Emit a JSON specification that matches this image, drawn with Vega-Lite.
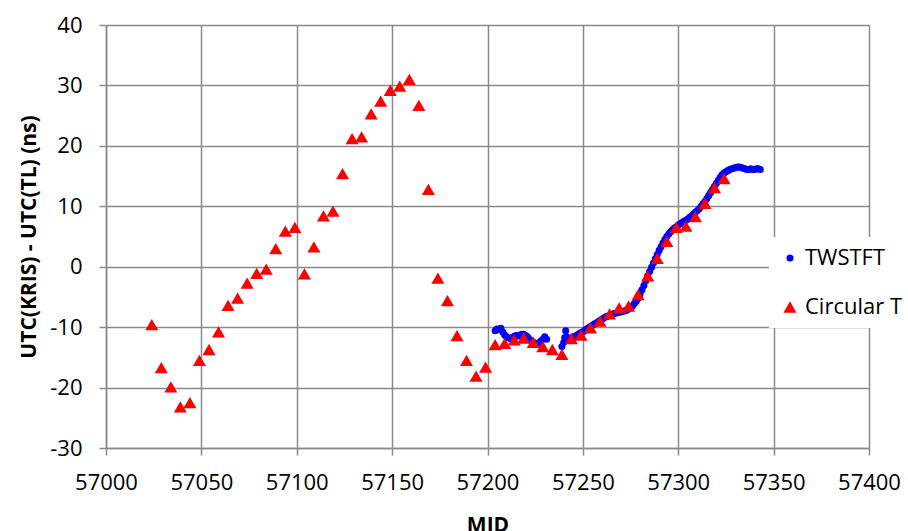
{
  "$schema": "https://vega.github.io/schema/vega-lite/v6.json",
  "width": 763,
  "height": 423,
  "autosize": "none",
  "padding": {"left": 106, "top": 25, "right": 39, "bottom": 83},
  "background": "white",
  "config": {
    "view": {"stroke": null},
    "font": "Open Sans",
    "axis": {
      "labelFont": "Open Sans",
      "labelFontSize": 22,
      "labelColor": "#000000",
      "labelOverlap": false,
      "labelFlush": false,
      "titleFont": "Open Sans",
      "titleFontSize": 21,
      "titleFontWeight": "bold",
      "titleColor": "#000000",
      "gridColor": "#8a8a8a",
      "gridWidth": 1.5,
      "gridOpacity": 1,
      "domainColor": "#8a8a8a",
      "domainWidth": 1.5,
      "tickColor": "#8a8a8a",
      "tickWidth": 1.5,
      "tickSize": 7,
      "labelPadding": 17
    },
    "legend": {
      "labelFont": "Open Sans",
      "labelFontSize": 22,
      "labelColor": "#000000"
    }
  },
  "data": {
    "values": [
      {"mjd": 57204, "v": -10.6, "s": "TWSTFT"},
      {"mjd": 57205, "v": -10.3, "s": "TWSTFT"},
      {"mjd": 57206, "v": -10.4, "s": "TWSTFT"},
      {"mjd": 57207, "v": -10.2, "s": "TWSTFT"},
      {"mjd": 57208, "v": -10.8, "s": "TWSTFT"},
      {"mjd": 57209, "v": -11.3, "s": "TWSTFT"},
      {"mjd": 57210, "v": -11.6, "s": "TWSTFT"},
      {"mjd": 57211, "v": -11.8, "s": "TWSTFT"},
      {"mjd": 57212, "v": -11.9, "s": "TWSTFT"},
      {"mjd": 57213, "v": -11.7, "s": "TWSTFT"},
      {"mjd": 57214, "v": -11.5, "s": "TWSTFT"},
      {"mjd": 57215, "v": -11.4, "s": "TWSTFT"},
      {"mjd": 57216, "v": -11.5, "s": "TWSTFT"},
      {"mjd": 57217, "v": -11.3, "s": "TWSTFT"},
      {"mjd": 57218, "v": -11.2, "s": "TWSTFT"},
      {"mjd": 57219, "v": -11.2, "s": "TWSTFT"},
      {"mjd": 57220, "v": -11.4, "s": "TWSTFT"},
      {"mjd": 57221, "v": -11.6, "s": "TWSTFT"},
      {"mjd": 57222, "v": -12.0, "s": "TWSTFT"},
      {"mjd": 57223, "v": -12.3, "s": "TWSTFT"},
      {"mjd": 57224, "v": -12.5, "s": "TWSTFT"},
      {"mjd": 57225, "v": -12.7, "s": "TWSTFT"},
      {"mjd": 57226, "v": -12.8, "s": "TWSTFT"},
      {"mjd": 57227, "v": -12.6, "s": "TWSTFT"},
      {"mjd": 57228, "v": -12.3, "s": "TWSTFT"},
      {"mjd": 57229, "v": -12.0, "s": "TWSTFT"},
      {"mjd": 57230, "v": -11.6, "s": "TWSTFT"},
      {"mjd": 57231, "v": -12.0, "s": "TWSTFT"},
      {"mjd": 57239, "v": -13.2, "s": "TWSTFT"},
      {"mjd": 57240, "v": -12.5, "s": "TWSTFT"},
      {"mjd": 57240.5, "v": -11.7, "s": "TWSTFT"},
      {"mjd": 57241, "v": -10.6, "s": "TWSTFT"},
      {"mjd": 57241.5, "v": -11.6, "s": "TWSTFT"},
      {"mjd": 57242, "v": -12.2, "s": "TWSTFT"},
      {"mjd": 57243, "v": -12.0, "s": "TWSTFT"},
      {"mjd": 57244, "v": -11.8, "s": "TWSTFT"},
      {"mjd": 57245, "v": -11.6, "s": "TWSTFT"},
      {"mjd": 57246, "v": -11.5, "s": "TWSTFT"},
      {"mjd": 57247, "v": -11.3, "s": "TWSTFT"},
      {"mjd": 57248, "v": -11.1, "s": "TWSTFT"},
      {"mjd": 57249, "v": -10.9, "s": "TWSTFT"},
      {"mjd": 57250, "v": -10.8, "s": "TWSTFT"},
      {"mjd": 57251, "v": -10.5, "s": "TWSTFT"},
      {"mjd": 57252, "v": -10.3, "s": "TWSTFT"},
      {"mjd": 57253, "v": -10.1, "s": "TWSTFT"},
      {"mjd": 57254, "v": -9.9, "s": "TWSTFT"},
      {"mjd": 57255, "v": -9.7, "s": "TWSTFT"},
      {"mjd": 57256, "v": -9.5, "s": "TWSTFT"},
      {"mjd": 57257, "v": -9.3, "s": "TWSTFT"},
      {"mjd": 57258, "v": -9.1, "s": "TWSTFT"},
      {"mjd": 57259, "v": -8.9, "s": "TWSTFT"},
      {"mjd": 57260, "v": -8.7, "s": "TWSTFT"},
      {"mjd": 57261, "v": -8.5, "s": "TWSTFT"},
      {"mjd": 57262, "v": -8.3, "s": "TWSTFT"},
      {"mjd": 57263, "v": -8.2, "s": "TWSTFT"},
      {"mjd": 57264, "v": -8.1, "s": "TWSTFT"},
      {"mjd": 57265, "v": -7.9, "s": "TWSTFT"},
      {"mjd": 57266, "v": -7.8, "s": "TWSTFT"},
      {"mjd": 57267, "v": -7.7, "s": "TWSTFT"},
      {"mjd": 57268, "v": -7.6, "s": "TWSTFT"},
      {"mjd": 57269, "v": -7.5, "s": "TWSTFT"},
      {"mjd": 57270, "v": -7.5, "s": "TWSTFT"},
      {"mjd": 57271, "v": -7.4, "s": "TWSTFT"},
      {"mjd": 57272, "v": -7.3, "s": "TWSTFT"},
      {"mjd": 57273, "v": -7.2, "s": "TWSTFT"},
      {"mjd": 57274, "v": -7.0, "s": "TWSTFT"},
      {"mjd": 57275, "v": -6.8, "s": "TWSTFT"},
      {"mjd": 57276, "v": -6.5, "s": "TWSTFT"},
      {"mjd": 57277, "v": -6.1, "s": "TWSTFT"},
      {"mjd": 57278, "v": -5.7, "s": "TWSTFT"},
      {"mjd": 57279, "v": -5.2, "s": "TWSTFT"},
      {"mjd": 57280, "v": -4.5, "s": "TWSTFT"},
      {"mjd": 57281, "v": -3.8, "s": "TWSTFT"},
      {"mjd": 57282, "v": -3.1, "s": "TWSTFT"},
      {"mjd": 57283, "v": -2.3, "s": "TWSTFT"},
      {"mjd": 57284, "v": -1.5, "s": "TWSTFT"},
      {"mjd": 57285, "v": -0.8, "s": "TWSTFT"},
      {"mjd": 57286, "v": -0.1, "s": "TWSTFT"},
      {"mjd": 57287, "v": 0.6, "s": "TWSTFT"},
      {"mjd": 57288, "v": 1.3, "s": "TWSTFT"},
      {"mjd": 57289, "v": 2.0, "s": "TWSTFT"},
      {"mjd": 57290, "v": 2.7, "s": "TWSTFT"},
      {"mjd": 57291, "v": 3.3, "s": "TWSTFT"},
      {"mjd": 57292, "v": 3.9, "s": "TWSTFT"},
      {"mjd": 57293, "v": 4.5, "s": "TWSTFT"},
      {"mjd": 57294, "v": 5.0, "s": "TWSTFT"},
      {"mjd": 57295, "v": 5.4, "s": "TWSTFT"},
      {"mjd": 57296, "v": 5.8, "s": "TWSTFT"},
      {"mjd": 57297, "v": 6.1, "s": "TWSTFT"},
      {"mjd": 57298, "v": 6.4, "s": "TWSTFT"},
      {"mjd": 57299, "v": 6.6, "s": "TWSTFT"},
      {"mjd": 57300, "v": 6.9, "s": "TWSTFT"},
      {"mjd": 57301, "v": 7.1, "s": "TWSTFT"},
      {"mjd": 57302, "v": 7.3, "s": "TWSTFT"},
      {"mjd": 57303, "v": 7.5, "s": "TWSTFT"},
      {"mjd": 57304, "v": 7.7, "s": "TWSTFT"},
      {"mjd": 57305, "v": 7.9, "s": "TWSTFT"},
      {"mjd": 57306, "v": 8.2, "s": "TWSTFT"},
      {"mjd": 57307, "v": 8.4, "s": "TWSTFT"},
      {"mjd": 57308, "v": 8.7, "s": "TWSTFT"},
      {"mjd": 57309, "v": 9.0, "s": "TWSTFT"},
      {"mjd": 57310, "v": 9.3, "s": "TWSTFT"},
      {"mjd": 57311, "v": 9.6, "s": "TWSTFT"},
      {"mjd": 57312, "v": 10.0, "s": "TWSTFT"},
      {"mjd": 57313, "v": 10.4, "s": "TWSTFT"},
      {"mjd": 57314, "v": 10.8, "s": "TWSTFT"},
      {"mjd": 57315, "v": 11.3, "s": "TWSTFT"},
      {"mjd": 57316, "v": 11.8, "s": "TWSTFT"},
      {"mjd": 57317, "v": 12.3, "s": "TWSTFT"},
      {"mjd": 57318, "v": 12.8, "s": "TWSTFT"},
      {"mjd": 57319, "v": 13.3, "s": "TWSTFT"},
      {"mjd": 57320, "v": 13.8, "s": "TWSTFT"},
      {"mjd": 57321, "v": 14.3, "s": "TWSTFT"},
      {"mjd": 57322, "v": 14.8, "s": "TWSTFT"},
      {"mjd": 57323, "v": 15.2, "s": "TWSTFT"},
      {"mjd": 57324, "v": 15.5, "s": "TWSTFT"},
      {"mjd": 57325, "v": 15.7, "s": "TWSTFT"},
      {"mjd": 57326, "v": 15.9, "s": "TWSTFT"},
      {"mjd": 57327, "v": 16.1, "s": "TWSTFT"},
      {"mjd": 57328, "v": 16.2, "s": "TWSTFT"},
      {"mjd": 57329, "v": 16.3, "s": "TWSTFT"},
      {"mjd": 57330, "v": 16.4, "s": "TWSTFT"},
      {"mjd": 57331, "v": 16.5, "s": "TWSTFT"},
      {"mjd": 57332, "v": 16.5, "s": "TWSTFT"},
      {"mjd": 57333, "v": 16.4, "s": "TWSTFT"},
      {"mjd": 57334, "v": 16.3, "s": "TWSTFT"},
      {"mjd": 57335, "v": 16.2, "s": "TWSTFT"},
      {"mjd": 57336, "v": 16.1, "s": "TWSTFT"},
      {"mjd": 57337, "v": 16.1, "s": "TWSTFT"},
      {"mjd": 57338, "v": 16.2, "s": "TWSTFT"},
      {"mjd": 57339, "v": 16.1, "s": "TWSTFT"},
      {"mjd": 57340, "v": 16.1, "s": "TWSTFT"},
      {"mjd": 57341, "v": 16.2, "s": "TWSTFT"},
      {"mjd": 57342, "v": 16.2, "s": "TWSTFT"},
      {"mjd": 57343, "v": 16.1, "s": "TWSTFT"},
      {"mjd": 57024, "v": -9.6, "s": "Circular T"},
      {"mjd": 57029, "v": -16.7, "s": "Circular T"},
      {"mjd": 57034, "v": -19.9, "s": "Circular T"},
      {"mjd": 57039, "v": -23.2, "s": "Circular T"},
      {"mjd": 57044, "v": -22.5, "s": "Circular T"},
      {"mjd": 57049, "v": -15.5, "s": "Circular T"},
      {"mjd": 57054, "v": -13.7, "s": "Circular T"},
      {"mjd": 57059, "v": -10.8, "s": "Circular T"},
      {"mjd": 57064, "v": -6.4, "s": "Circular T"},
      {"mjd": 57069, "v": -5.2, "s": "Circular T"},
      {"mjd": 57074, "v": -2.7, "s": "Circular T"},
      {"mjd": 57079, "v": -1.1, "s": "Circular T"},
      {"mjd": 57084, "v": -0.4, "s": "Circular T"},
      {"mjd": 57089, "v": 3.0, "s": "Circular T"},
      {"mjd": 57094, "v": 5.9, "s": "Circular T"},
      {"mjd": 57099, "v": 6.5, "s": "Circular T"},
      {"mjd": 57104, "v": -1.2, "s": "Circular T"},
      {"mjd": 57109, "v": 3.3, "s": "Circular T"},
      {"mjd": 57114, "v": 8.4, "s": "Circular T"},
      {"mjd": 57119, "v": 9.2, "s": "Circular T"},
      {"mjd": 57124, "v": 15.4, "s": "Circular T"},
      {"mjd": 57129, "v": 21.2, "s": "Circular T"},
      {"mjd": 57134, "v": 21.5, "s": "Circular T"},
      {"mjd": 57139, "v": 25.3, "s": "Circular T"},
      {"mjd": 57144, "v": 27.4, "s": "Circular T"},
      {"mjd": 57149, "v": 29.2, "s": "Circular T"},
      {"mjd": 57154, "v": 29.9, "s": "Circular T"},
      {"mjd": 57159, "v": 31.0, "s": "Circular T"},
      {"mjd": 57164, "v": 26.7, "s": "Circular T"},
      {"mjd": 57169, "v": 12.8, "s": "Circular T"},
      {"mjd": 57174, "v": -1.9, "s": "Circular T"},
      {"mjd": 57179, "v": -5.6, "s": "Circular T"},
      {"mjd": 57184, "v": -11.4, "s": "Circular T"},
      {"mjd": 57189, "v": -15.5, "s": "Circular T"},
      {"mjd": 57194, "v": -18.1, "s": "Circular T"},
      {"mjd": 57199, "v": -16.6, "s": "Circular T"},
      {"mjd": 57204, "v": -12.9, "s": "Circular T"},
      {"mjd": 57209, "v": -12.7, "s": "Circular T"},
      {"mjd": 57214, "v": -12.1, "s": "Circular T"},
      {"mjd": 57219, "v": -11.8, "s": "Circular T"},
      {"mjd": 57224, "v": -12.5, "s": "Circular T"},
      {"mjd": 57229, "v": -13.2, "s": "Circular T"},
      {"mjd": 57234, "v": -13.7, "s": "Circular T"},
      {"mjd": 57239, "v": -14.5, "s": "Circular T"},
      {"mjd": 57244, "v": -11.9, "s": "Circular T"},
      {"mjd": 57249, "v": -11.3, "s": "Circular T"},
      {"mjd": 57254, "v": -10.1, "s": "Circular T"},
      {"mjd": 57259, "v": -9.0, "s": "Circular T"},
      {"mjd": 57264, "v": -7.8, "s": "Circular T"},
      {"mjd": 57269, "v": -6.8, "s": "Circular T"},
      {"mjd": 57274, "v": -6.5, "s": "Circular T"},
      {"mjd": 57279, "v": -4.6, "s": "Circular T"},
      {"mjd": 57284, "v": -1.5, "s": "Circular T"},
      {"mjd": 57289, "v": 1.4, "s": "Circular T"},
      {"mjd": 57294, "v": 4.2, "s": "Circular T"},
      {"mjd": 57299, "v": 6.5, "s": "Circular T"},
      {"mjd": 57304, "v": 6.7, "s": "Circular T"},
      {"mjd": 57309, "v": 8.3, "s": "Circular T"},
      {"mjd": 57314, "v": 10.5, "s": "Circular T"},
      {"mjd": 57319, "v": 13.1, "s": "Circular T"},
      {"mjd": 57324, "v": 14.6, "s": "Circular T"}
    ]
  },
  "mark": {"type": "point", "filled": true, "opacity": 1},
  "encoding": {
    "x": {
      "field": "mjd",
      "type": "quantitative",
      "scale": {"domain": [57000, 57400], "nice": false, "zero": false},
      "axis": {
        "title": "MJD",
        "values": [57000, 57050, 57100, 57150, 57200, 57250, 57300, 57350, 57400],
        "labelExpr": "'' + datum.value",
        "titlePadding": 21
      }
    },
    "y": {
      "field": "v",
      "type": "quantitative",
      "scale": {"domain": [-30, 40], "nice": false, "zero": false},
      "axis": {
        "title": "UTC(KRIS) - UTC(TL) (ns)",
        "values": [-30, -20, -10, 0, 10, 20, 30, 40],
        "labelExpr": "'' + datum.value",
        "titlePadding": 10
      }
    },
    "color": {
      "field": "s",
      "type": "nominal",
      "scale": {"domain": ["TWSTFT", "Circular T"], "range": ["#0000ff", "#ff0000"]},
      "legend": {
        "title": null,
        "orient": "none",
        "legendX": 663,
        "legendY": 212,
        "fillColor": "white",
        "padding": 10,
        "rowPadding": 27,
        "labelOffset": 4
      }
    },
    "shape": {
      "field": "s",
      "type": "nominal",
      "scale": {"domain": ["TWSTFT", "Circular T"], "range": ["circle", "triangle-up"]},
      "legend": {
        "title": null,
        "orient": "none",
        "legendX": 663,
        "legendY": 212,
        "fillColor": "white",
        "padding": 10,
        "rowPadding": 27,
        "labelOffset": 4
      }
    },
    "size": {
      "field": "s",
      "type": "nominal",
      "scale": {"domain": ["TWSTFT", "Circular T"], "range": [50, 170]},
      "legend": {
        "title": null,
        "orient": "none",
        "legendX": 663,
        "legendY": 212,
        "fillColor": "white",
        "padding": 10,
        "rowPadding": 27,
        "labelOffset": 4
      }
    }
  }
}
